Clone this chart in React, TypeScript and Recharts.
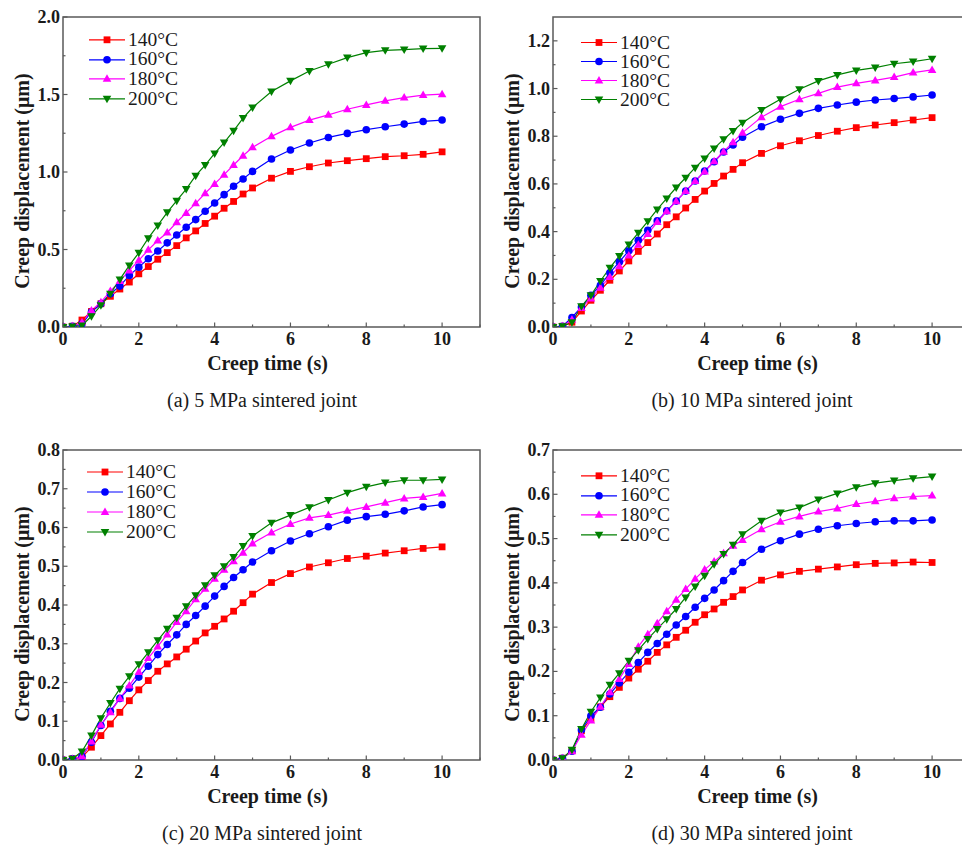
import React from 'react';
import { LineChart, Line, XAxis, YAxis, ReferenceArea, Legend } from 'recharts';

// ---------- data ----------
const TIME = [0, 0.25, 0.5, 0.75, 1, 1.25, 1.5, 1.75, 2, 2.25, 2.5, 2.75, 3, 3.25, 3.5, 3.75, 4, 4.25, 4.5, 4.75, 5, 5.5, 6, 6.5, 7, 7.5, 8, 8.5, 9, 9.5, 10];
const SERIES_NAMES = ['140°C', '160°C', '180°C', '200°C'];

const A_140 = [0, 0.005, 0.045, 0.10, 0.15, 0.198, 0.245, 0.29, 0.343, 0.39, 0.437, 0.48, 0.525, 0.575, 0.62, 0.668, 0.715, 0.766, 0.81, 0.858, 0.897, 0.96, 1.004, 1.034, 1.058, 1.073, 1.086, 1.099, 1.105, 1.114, 1.13];
const A_160 = [0, 0.005, 0.02, 0.097, 0.15, 0.215, 0.264, 0.333, 0.386, 0.44, 0.49, 0.543, 0.594, 0.644, 0.693, 0.747, 0.8, 0.854, 0.908, 0.955, 1.004, 1.084, 1.142, 1.187, 1.223, 1.249, 1.273, 1.292, 1.309, 1.326, 1.335];
const A_180 = [0, 0.005, 0.03, 0.107, 0.16, 0.232, 0.296, 0.365, 0.43, 0.498, 0.558, 0.61, 0.676, 0.736, 0.798, 0.863, 0.923, 0.983, 1.045, 1.105, 1.159, 1.23, 1.288, 1.335, 1.369, 1.405, 1.433, 1.459, 1.48, 1.496, 1.502];
const A_200 = [0, 0.003, 0.01, 0.069, 0.14, 0.215, 0.307, 0.397, 0.479, 0.573, 0.655, 0.74, 0.815, 0.89, 0.976, 1.045, 1.12, 1.19, 1.266, 1.348, 1.416, 1.519, 1.588, 1.652, 1.695, 1.738, 1.77, 1.785, 1.79, 1.796, 1.798];

const B_140 = [0, 0.003, 0.02, 0.067, 0.112, 0.154, 0.196, 0.235, 0.277, 0.317, 0.354, 0.39, 0.429, 0.462, 0.499, 0.535, 0.57, 0.602, 0.633, 0.661, 0.689, 0.728, 0.76, 0.781, 0.803, 0.821, 0.836, 0.847, 0.857, 0.868, 0.878];
const B_160 = [0, 0.003, 0.04, 0.084, 0.133, 0.175, 0.227, 0.273, 0.32, 0.364, 0.406, 0.445, 0.487, 0.528, 0.57, 0.612, 0.654, 0.693, 0.734, 0.763, 0.796, 0.84, 0.871, 0.896, 0.917, 0.931, 0.943, 0.952, 0.958, 0.965, 0.973];
const B_180 = [0, 0.003, 0.03, 0.08, 0.12, 0.165, 0.21, 0.255, 0.30, 0.345, 0.39, 0.44, 0.485, 0.527, 0.57, 0.612, 0.652, 0.695, 0.735, 0.775, 0.815, 0.88, 0.924, 0.955, 0.98, 1.006, 1.022, 1.034, 1.048, 1.067, 1.078];
const B_200 = [0, 0.003, 0.02, 0.087, 0.133, 0.193, 0.248, 0.298, 0.346, 0.395, 0.443, 0.493, 0.539, 0.585, 0.626, 0.668, 0.707, 0.749, 0.787, 0.822, 0.857, 0.91, 0.955, 0.997, 1.032, 1.057, 1.076, 1.088, 1.104, 1.113, 1.125];

const C_140 = [0, 0.003, 0.007, 0.033, 0.063, 0.093, 0.123, 0.153, 0.181, 0.205, 0.229, 0.248, 0.266, 0.286, 0.307, 0.328, 0.345, 0.364, 0.384, 0.406, 0.428, 0.458, 0.481, 0.498, 0.509, 0.52, 0.526, 0.534, 0.54, 0.546, 0.55];
const C_160 = [0, 0.003, 0.009, 0.046, 0.089, 0.126, 0.159, 0.185, 0.214, 0.242, 0.272, 0.298, 0.323, 0.35, 0.373, 0.397, 0.423, 0.448, 0.471, 0.491, 0.511, 0.54, 0.565, 0.584, 0.602, 0.619, 0.628, 0.634, 0.643, 0.653, 0.659];
const C_180 = [0, 0.003, 0.01, 0.048, 0.091, 0.123, 0.159, 0.192, 0.227, 0.263, 0.293, 0.324, 0.356, 0.384, 0.415, 0.442, 0.468, 0.491, 0.513, 0.535, 0.559, 0.587, 0.609, 0.625, 0.632, 0.643, 0.653, 0.664, 0.675, 0.679, 0.688];
const C_200 = [0, 0.003, 0.022, 0.063, 0.108, 0.147, 0.184, 0.216, 0.247, 0.278, 0.309, 0.339, 0.367, 0.397, 0.425, 0.451, 0.477, 0.5, 0.524, 0.552, 0.578, 0.612, 0.632, 0.652, 0.671, 0.69, 0.705, 0.716, 0.722, 0.722, 0.724];

const D_140 = [0, 0.004, 0.021, 0.066, 0.093, 0.12, 0.143, 0.164, 0.185, 0.205, 0.223, 0.243, 0.26, 0.277, 0.293, 0.311, 0.328, 0.341, 0.356, 0.369, 0.384, 0.406, 0.418, 0.426, 0.431, 0.436, 0.441, 0.444, 0.445, 0.447, 0.446];
const D_160 = [0, 0.004, 0.02, 0.068, 0.1, 0.119, 0.149, 0.174, 0.198, 0.22, 0.243, 0.263, 0.284, 0.305, 0.324, 0.345, 0.365, 0.384, 0.405, 0.426, 0.446, 0.476, 0.495, 0.51, 0.521, 0.529, 0.534, 0.538, 0.54, 0.54, 0.542];
const D_180 = [0, 0.004, 0.02, 0.057, 0.089, 0.12, 0.153, 0.183, 0.217, 0.256, 0.284, 0.309, 0.336, 0.362, 0.386, 0.409, 0.43, 0.448, 0.467, 0.484, 0.497, 0.521, 0.538, 0.55, 0.561, 0.568, 0.578, 0.584, 0.591, 0.595, 0.597];
const D_200 = [0, 0.004, 0.023, 0.07, 0.109, 0.141, 0.17, 0.196, 0.224, 0.248, 0.273, 0.296, 0.318, 0.341, 0.367, 0.392, 0.416, 0.442, 0.465, 0.486, 0.51, 0.54, 0.559, 0.57, 0.588, 0.602, 0.616, 0.625, 0.631, 0.636, 0.64];

const X_MAJOR = [0, 2, 4, 6, 8, 10];
const X_MINOR = [1, 3, 5, 7, 9, 11];

const A_Y_MAJOR = [0, 0.5, 1.0, 1.5, 2.0];
const A_Y_MINOR = [0.25, 0.75, 1.25, 1.75];
const B_Y_MAJOR = [0, 0.2, 0.4, 0.6, 0.8, 1.0, 1.2];
const B_Y_MINOR = [0.1, 0.3, 0.5, 0.7, 0.9, 1.1];
const C_Y_MAJOR = [0, 0.1, 0.2, 0.3, 0.4, 0.5, 0.6, 0.7, 0.8];
const C_Y_MINOR = [0.05, 0.15, 0.25, 0.35, 0.45, 0.55, 0.65, 0.75];
const D_Y_MAJOR = [0, 0.1, 0.2, 0.3, 0.4, 0.5, 0.6, 0.7];
const D_Y_MINOR = [0.05, 0.15, 0.25, 0.35, 0.45, 0.55, 0.65];

const CAPTIONS = ['(a) 5 MPa sintered joint', '(b) 10 MPa sintered joint', '(c) 20 MPa sintered joint', '(d) 30 MPa sintered joint'];
const X_TITLE = 'Creep time (s)';
const Y_TITLE = 'Creep displacement (μm)';

// ---------- styles ----------
const COLORS = ['#ff0000', '#0000ff', '#ff00ff', '#008000'];
const SHAPES = ['square', 'circle', 'triUp', 'triDown'];
const KEYS = ['s140', 's160', 's180', 's200'];
const FRAME = '#5a5a5a';
const TEXT = '#1a1a1a';
const SERIF = "'Liberation Serif', 'DejaVu Serif', serif";

function Marker({ shape, cx, cy, color }: { shape: string; cx: number; cy: number; color: string }) {
  if (shape === 'square') return <rect x={cx - 3.4} y={cy - 3.4} width={6.8} height={6.8} fill={color} />;
  if (shape === 'circle') return <circle cx={cx} cy={cy} r={3.8} fill={color} />;
  if (shape === 'triUp') return <polygon points={`${cx},${cy - 4.5} ${cx - 4.3},${cy + 3} ${cx + 4.3},${cy + 3}`} fill={color} />;
  return <polygon points={`${cx - 4.3},${cy - 3} ${cx + 4.3},${cy - 3} ${cx},${cy + 4.5}`} fill={color} />;
}

const makeDot = (shape: string, color: string) => (props: any) => {
  const { cx, cy, index } = props;
  if (cx == null || cy == null) return <g key={`d-${index}`} />;
  return (
    <g key={`d-${index}`}>
      <Marker shape={shape} cx={cx} cy={cy} color={color} />
    </g>
  );
};

const isIn = (arr: number[], v: number) => arr.some((m) => Math.abs(m - v) < 1e-6);

const makeXTick = (major: number[]) => (props: any) => {
  const { x, y, payload } = props;
  const v = payload.value;
  const mj = isIn(major, v);
  return (
    <g>
      <line x1={x} x2={x} y1={y} y2={y - (mj ? 4.5 : 2.5)} stroke={FRAME} strokeWidth={1.2} />
      {mj && (
        <text x={x} y={y + 18} textAnchor="middle" style={{ fontFamily: SERIF }} fontWeight="bold" fontSize={18} fill={TEXT}>
          {String(v)}
        </text>
      )}
    </g>
  );
};

const makeYTick = (major: number[]) => (props: any) => {
  const { x, y, payload } = props;
  const v = payload.value;
  const mj = isIn(major, v);
  return (
    <g>
      <line x1={x} x2={x + (mj ? 4.5 : 2.5)} y1={y} y2={y} stroke={FRAME} strokeWidth={1.2} />
      {mj && (
        <text x={x - 3} y={y + 6} textAnchor="end" style={{ fontFamily: SERIF }} fontWeight="bold" fontSize={18} fill={TEXT}>
          {v.toFixed(1)}
        </text>
      )}
    </g>
  );
};

const LegendBox = ({ rowH }: { rowH: number }) => (
  <div style={{ fontFamily: SERIF, fontSize: 19.5, color: TEXT }}>
    {SERIES_NAMES.map((n, i) => (
      <div key={n} style={{ display: 'flex', alignItems: 'center', height: rowH, overflow: 'visible' }}>
        <svg width={38} height={rowH} style={{ display: 'block' }}>
          <line x1={0} x2={36} y1={rowH / 2} y2={rowH / 2} stroke={COLORS[i]} strokeWidth={1.2} />
          <Marker shape={SHAPES[i]} cx={18} cy={rowH / 2} color={COLORS[i]} />
        </svg>
        <span style={{ lineHeight: '18px', marginLeft: 1 }}>{n}</span>
      </div>
    ))}
  </div>
);

function buildRows(series: number[][]) {
  return TIME.map((t, i) => ({
    t,
    s140: series[0][i],
    s160: series[1][i],
    s180: series[2][i],
    s200: series[3][i],
  }));
}

const PANELS = [
  { left: 0, top: 0, yMax: 2.0, yMajor: A_Y_MAJOR, yMinor: A_Y_MINOR, rows: buildRows([A_140, A_160, A_180, A_200]), caption: CAPTIONS[0], legend: { left: 89, top: 30, rowH: 19.6 } },
  { left: 490, top: 0, yMax: 1.3, yMajor: B_Y_MAJOR, yMinor: B_Y_MINOR, rows: buildRows([B_140, B_160, B_180, B_200]), caption: CAPTIONS[1], legend: { left: 91, top: 33, rowH: 19 } },
  { left: 0, top: 433, yMax: 0.8, yMajor: C_Y_MAJOR, yMinor: C_Y_MINOR, rows: buildRows([C_140, C_160, C_180, C_200]), caption: CAPTIONS[2], legend: { left: 87, top: 29, rowH: 20 } },
  { left: 490, top: 433, yMax: 0.7, yMajor: D_Y_MAJOR, yMinor: D_Y_MINOR, rows: buildRows([D_140, D_160, D_180, D_200]), caption: CAPTIONS[3], legend: { left: 91, top: 33, rowH: 19.6 } },
];

function Panel({ p }: { p: (typeof PANELS)[number] }) {
  const yTicks = [...p.yMajor, ...p.yMinor].sort((a, b) => a - b);
  const xTicks = [...X_MAJOR, ...X_MINOR].sort((a, b) => a - b);
  return (
    <div style={{ position: 'absolute', left: p.left, top: p.top, width: 490, height: 420 }}>
      <LineChart width={490} height={420} data={p.rows} margin={{ top: 17, right: 10, left: 0, bottom: 33 }}>
        <XAxis
          dataKey="t"
          type="number"
          domain={[0, 11]}
          ticks={xTicks}
          interval={0}
          allowDataOverflow
          axisLine={false}
          tickLine={false}
          tickSize={0}
          tickMargin={0}
          height={60}
          tick={makeXTick(X_MAJOR)}
          label={{
            content: (lp: any) => {
              const vb = lp.viewBox;
              return (
                <text x={vb.x + vb.width / 2 - 4} y={vb.y + 43} textAnchor="middle" style={{ fontFamily: SERIF }} fontWeight="bold" fontSize={20} fill={TEXT}>
                  {X_TITLE}
                </text>
              );
            },
          }}
        />
        <YAxis
          type="number"
          domain={[0, p.yMax]}
          ticks={yTicks}
          interval={0}
          allowDataOverflow
          axisLine={false}
          tickLine={false}
          tickSize={0}
          tickMargin={0}
          width={63}
          tick={makeYTick(p.yMajor)}
          label={{
            content: (lp: any) => {
              const vb = lp.viewBox;
              const cx = vb.x + 22;
              const cy = vb.y + vb.height / 2 + 9;
              return (
                <text x={cx} y={cy} transform={`rotate(-90, ${cx}, ${cy})`} textAnchor="middle" dominantBaseline="central" style={{ fontFamily: SERIF }} fontWeight="bold" fontSize={20} fill={TEXT}>
                  {Y_TITLE}
                </text>
              );
            },
          }}
        />
        <ReferenceArea x1={0} x2={11} y1={0} y2={p.yMax} fill="none" fillOpacity={0} stroke={FRAME} strokeWidth={1.5} />
        <Legend
          layout="vertical"
          align="center"
          verticalAlign="middle"
          wrapperStyle={{ left: p.legend.left, top: p.legend.top, width: 140, height: 82 }}
          content={() => <LegendBox rowH={p.legend.rowH} />}
        />
        {KEYS.map((k, i) => (
          <Line
            key={k}
            dataKey={k}
            name={SERIES_NAMES[i]}
            stroke={COLORS[i]}
            strokeWidth={1.2}
            dot={makeDot(SHAPES[i], COLORS[i])}
            activeDot={false}
            type="linear"
            isAnimationActive={false}
          />
        ))}
      </LineChart>
      <div
        style={{
          position: 'absolute',
          left: 62,
          top: 388,
          width: 400,
          textAlign: 'center',
          fontFamily: SERIF,
          fontSize: 20,
          lineHeight: '24px',
          color: TEXT,
        }}
      >
        {p.caption}
      </div>
    </div>
  );
}

export default function App() {
  return (
    <div style={{ position: 'absolute', left: 0, top: 0, width: 962, height: 848, overflow: 'hidden', background: '#fff' }}>
      {PANELS.map((p, i) => (
        <Panel key={i} p={p} />
      ))}
    </div>
  );
}
